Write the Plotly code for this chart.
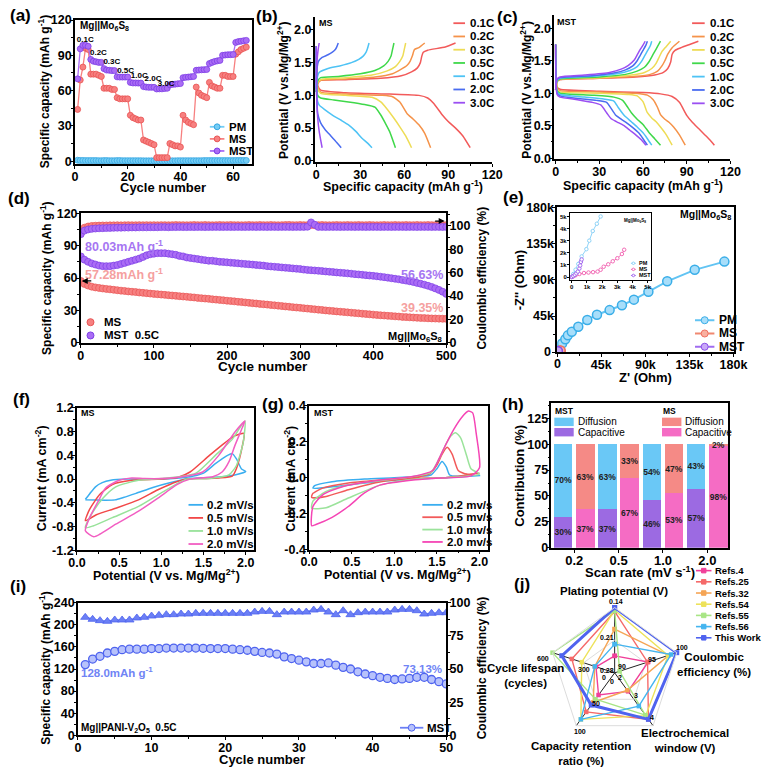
import math
import plotly.graph_objects as go

W, H = 774, 775
FONT = "Liberation Sans, Arial, Helvetica, sans-serif"


def PX(x):
    return x / W


def PY(y):
    return 1.0 - y / H


# ============================ DATA ============================
# (a) rate capability, Mg||Mo6S8
rate_cycles = list(range(1, 66))
pm_rate = [0.8, 0.6, 0.6, 0.5, 0.5, 0.5, 0.5, 0.5, 0.4, 0.4,
           0.5, 0.5, 0.4, 0.4, 0.4, 0.5, 0.5, 0.4, 0.4, 0.4,
           0.4, 0.4, 0.4, 0.4, 0.4, 0.3, 0.3, 0.3, 0.3, 0.3,
           0.3, 0.3, 0.3, 0.3, 0.3, 0.3, 0.3, 0.3, 0.4, 0.4,
           0.4, 0.4, 0.4, 0.4, 0.4, 0.4, 0.4, 0.4, 0.5, 0.5,
           0.5, 0.5, 0.5, 0.5, 0.5, 0.5, 0.5, 0.5, 0.5, 0.5,
           0.6, 0.6, 0.6, 0.6, 0.6]
ms_rate = [44, 69, 80, 96, 95, 74, 74, 74, 73, 72,
           62, 62, 62, 61, 61, 54, 53, 53, 53, 53,
           39, 37, 36, 35, 35, 18, 17, 16, 15, 14,
           3, 3, 3, 3, 3, 15, 14, 13, 13, 12,
           39, 35, 33, 32, 31, 63, 58, 56, 55, 54,
           67, 64, 63, 62, 62, 73, 73, 72, 72, 72,
           91, 93, 95, 96, 97]
mst_rate = [70, 95.5, 98.5, 98.5, 97.7, 86.5, 85, 84.5, 84, 84,
            78.7, 77.5, 77.3, 77, 77, 71.7, 71.5, 71.5, 71.5, 71.5,
            67, 66.5, 66.5, 66.4, 66.4, 63.4, 63, 62.8, 62.8, 62.8,
            61.4, 61.5, 61.5, 61.8, 62, 65, 65.3, 65.5, 65.8, 66,
            71, 71.3, 71.5, 71.8, 72, 77.3, 77.5, 77.7, 77.8, 78,
            83, 84, 84.8, 85.3, 85.7, 90, 90.3, 90.5, 90.6, 90.7,
            101, 101.7, 102, 102.4, 102.7]
rate_step_labels = ["0.1C", "0.2C", "0.3C", "0.5C", "1.0C", "2.0C", "3.0C"]
rate_step_cycle = [3.9, 8.9, 14.0, 19.2, 24.4, 29.6, 34.6]
rate_step_cap = [103, 92, 84, 76.5, 72, 70, 66]

# (b)/(c) charge-discharge profiles (capacity mAh/g, potential V)
cd_rates = ["0.1C", "0.2C", "0.3C", "0.5C", "1.0C", "2.0C", "3.0C"]
ms_dis_cap = [
    [0, 1, 3, 20, 50, 70, 76, 80, 86, 90, 95, 100, 105],
    [0, 1, 3, 20, 45, 52, 57, 62, 66, 70, 74, 78],
    [0, 1, 3, 20, 38, 44, 48, 53, 57, 61, 65],
    [0, 1, 3, 12, 22, 33, 40, 44, 47, 50, 54],
    [0, 0.5, 2, 6, 11, 17, 22, 27, 31, 35, 38],
    [0, 0.3, 1, 3, 6, 10, 14, 17],
    [0, 0.3, 1, 2, 3, 4],
]
ms_dis_v = [
    [1.75, 1.15, 1.08, 1.04, 1.02, 1.0, 0.96, 0.88, 0.7, 0.6, 0.5, 0.38, 0.2],
    [1.75, 1.12, 1.05, 1.02, 1.0, 0.98, 0.9, 0.72, 0.64, 0.55, 0.42, 0.2],
    [1.75, 1.1, 1.03, 1.0, 0.97, 0.9, 0.8, 0.65, 0.52, 0.38, 0.2],
    [1.75, 1.0, 0.96, 0.93, 0.9, 0.86, 0.82, 0.7, 0.58, 0.45, 0.2],
    [1.75, 0.95, 0.85, 0.78, 0.7, 0.62, 0.55, 0.45, 0.35, 0.27, 0.2],
    [1.75, 1.0, 0.72, 0.58, 0.48, 0.38, 0.28, 0.2],
    [1.75, 1.0, 0.65, 0.45, 0.32, 0.2],
]
ms_chg_cap = [
    [0, 1, 3, 20, 44, 58, 65, 69, 71, 72, 73, 76, 88, 95],
    [0, 1, 3, 20, 40, 52, 58, 62, 64, 65.5, 67, 70, 74],
    [0, 1, 3, 20, 38, 48, 54, 57, 59, 60, 61],
    [0, 1, 3, 15, 30, 40, 46, 49, 51, 52, 53],
    [0, 0.5, 2, 8, 16, 24, 29, 32, 34, 35, 36],
    [0, 0.5, 1.5, 4, 8, 11, 13, 14, 15],
    [0, 0.3, 0.8, 1.3, 2],
]
ms_chg_v = [
    [1.05, 1.18, 1.23, 1.24, 1.26, 1.3, 1.36, 1.42, 1.5, 1.6, 1.66, 1.69, 1.74, 1.8],
    [1.05, 1.18, 1.23, 1.25, 1.28, 1.33, 1.4, 1.46, 1.52, 1.6, 1.7, 1.73, 1.8],
    [1.05, 1.2, 1.24, 1.27, 1.31, 1.37, 1.44, 1.52, 1.6, 1.7, 1.8],
    [1.05, 1.22, 1.27, 1.29, 1.33, 1.38, 1.45, 1.52, 1.6, 1.7, 1.8],
    [1.05, 1.25, 1.35, 1.41, 1.45, 1.5, 1.55, 1.6, 1.66, 1.72, 1.8],
    [1.1, 1.4, 1.52, 1.58, 1.62, 1.66, 1.7, 1.74, 1.8],
    [1.2, 1.45, 1.6, 1.7, 1.8],
]
mst_dis_cap = [
    [0, 1, 3, 30, 60, 72, 80, 85, 90, 94, 98, 102, 106, 109],
    [0, 1, 3, 30, 55, 63, 67, 70, 72, 75, 78, 81, 85, 89],
    [0, 1, 3, 30, 50, 56, 60, 63, 66, 69, 72, 76, 80],
    [0, 1, 3, 25, 40, 46, 49, 52, 56, 60, 64, 68, 72],
    [0, 1, 3, 20, 33, 40, 43, 47, 52, 56, 60, 63, 66],
    [0, 1, 3, 15, 28, 35, 38, 41, 45, 49, 53, 57, 60, 63],
    [0, 1, 3, 15, 25, 31, 35, 38, 42, 47, 51, 55, 59, 62],
]
mst_dis_v = [
    [1.75, 1.1, 1.06, 1.03, 1.01, 0.99, 0.95, 0.86, 0.66, 0.55, 0.46, 0.37, 0.28, 0.2],
    [1.75, 1.08, 1.04, 1.02, 1.0, 0.97, 0.9, 0.78, 0.67, 0.6, 0.55, 0.48, 0.36, 0.2],
    [1.75, 1.06, 1.02, 1.0, 0.98, 0.96, 0.87, 0.7, 0.62, 0.56, 0.48, 0.36, 0.2],
    [1.75, 1.04, 1.0, 0.97, 0.94, 0.89, 0.8, 0.7, 0.6, 0.52, 0.4, 0.3, 0.2],
    [1.75, 1.02, 0.98, 0.94, 0.91, 0.88, 0.78, 0.66, 0.56, 0.48, 0.39, 0.3, 0.2],
    [1.75, 1.0, 0.96, 0.92, 0.89, 0.86, 0.77, 0.67, 0.6, 0.54, 0.47, 0.39, 0.3, 0.2],
    [1.75, 0.98, 0.94, 0.9, 0.86, 0.82, 0.7, 0.61, 0.56, 0.5, 0.43, 0.36, 0.28, 0.2],
]
mst_chg_cap = [
    [0, 1, 3, 30, 55, 68, 74, 77, 79, 80, 82, 86, 92, 98],
    [0, 1, 3, 30, 55, 65, 70, 73, 75, 77, 80, 85],
    [0, 1, 3, 30, 52, 61, 66, 69, 71, 73, 76, 79],
    [0, 1, 3, 30, 48, 56, 61, 64, 66, 68, 70, 72],
    [0, 1, 3, 25, 42, 51, 56, 59, 61, 63, 65, 66],
    [0, 1, 3, 25, 40, 48, 53, 56, 58, 60, 62, 63],
    [0, 1, 3, 20, 37, 45, 50, 54, 56, 58, 60, 61.5],
]
mst_chg_v = [
    [1.05, 1.18, 1.21, 1.23, 1.25, 1.28, 1.32, 1.38, 1.48, 1.6, 1.66, 1.7, 1.75, 1.8],
    [1.05, 1.18, 1.21, 1.23, 1.26, 1.29, 1.34, 1.42, 1.5, 1.6, 1.7, 1.8],
    [1.05, 1.18, 1.22, 1.24, 1.28, 1.32, 1.38, 1.46, 1.55, 1.64, 1.72, 1.8],
    [1.05, 1.19, 1.22, 1.25, 1.29, 1.34, 1.4, 1.48, 1.56, 1.64, 1.72, 1.8],
    [1.05, 1.2, 1.23, 1.26, 1.3, 1.35, 1.41, 1.49, 1.57, 1.65, 1.73, 1.8],
    [1.05, 1.21, 1.24, 1.27, 1.31, 1.36, 1.42, 1.5, 1.58, 1.66, 1.74, 1.8],
    [1.05, 1.22, 1.25, 1.28, 1.32, 1.37, 1.43, 1.51, 1.59, 1.67, 1.74, 1.8],
]

# (d) long cycling at 0.5C (every 5th cycle)
cyc_d = list(range(0, 501, 5))
mst_cap_d = [80.0, 77.0, 75.0, 73.5, 72.5, 71.5, 71.0, 71.0, 71.0, 71.5,
             72.0, 73.0, 74.0, 75.0, 76.0, 77.0, 78.0, 79.5, 81.0, 82.0,
             82.5, 83.0, 83.0, 83.0, 82.5, 82.0, 81.5, 80.5, 80.0, 79.0,
             78.5, 78.0, 77.5, 77.0, 76.5, 76.0, 76.0, 75.5, 75.0, 74.8,
             74.5, 74.2, 73.9, 73.6, 73.3, 73.0, 72.7, 72.4, 72.1, 71.8,
             71.5, 71.0, 70.7, 70.4, 70.1, 69.8, 69.5, 69.2, 68.9, 68.6,
             68.3, 67.8, 67.5, 67.2, 67.0, 66.7, 66.4, 66.1, 65.8, 65.5,
             65.2, 64.9, 64.6, 64.3, 64.0, 63.6, 63.3, 63.0, 62.6, 62.3,
             62.0, 61.6, 61.2, 60.8, 60.3, 59.8, 59.3, 58.8, 58.2, 57.6,
             57.0, 56.3, 55.5, 54.7, 53.8, 52.8, 51.7, 50.4, 49.0, 47.3,
             45.3]
ms_cap_d = [57.3, 54.5, 53.0, 52.0, 51.3, 50.8, 50.3, 49.9, 49.5, 49.1,
            48.7, 48.3, 48.0, 47.6, 47.3, 47.0, 46.6, 46.3, 46.0, 45.6,
            45.3, 45.0, 44.7, 44.4, 44.1, 43.8, 43.5, 43.2, 42.9, 42.6,
            42.3, 42.0, 41.6, 41.3, 41.0, 40.7, 40.3, 40.0, 39.7, 39.4,
            39.0, 38.7, 38.4, 38.0, 37.7, 37.4, 37.0, 36.7, 36.4, 36.0,
            35.7, 35.4, 35.0, 34.7, 34.4, 34.0, 33.7, 33.4, 33.0, 32.7,
            32.4, 32.0, 31.7, 31.4, 31.0, 30.7, 30.4, 30.0, 29.7, 29.4,
            29.1, 28.8, 28.5, 28.2, 27.9, 27.6, 27.3, 27.0, 26.7, 26.4,
            26.1, 25.8, 25.5, 25.3, 25.0, 24.8, 24.5, 24.3, 24.0, 23.8,
            23.6, 23.4, 23.2, 23.0, 22.9, 22.7, 22.6, 22.5, 22.4, 22.3,
            22.2]
ms_ce_d = [94.0, 98.5, 99.5, 100.0, 100.2, 100.3, 100.4, 100.4, 100.5, 100.5,
           100.6, 100.5, 100.6, 100.7, 100.6, 100.6, 100.7, 100.6, 100.7, 100.6,
           100.7, 100.6, 100.7, 100.7, 100.6, 100.7, 100.8, 100.7, 100.7, 100.6,
           100.7, 100.8, 100.7, 100.7, 100.8, 100.7, 100.6, 100.7, 100.8, 100.7,
           100.7, 100.8, 100.7, 100.7, 100.6, 100.7, 100.8, 100.7, 100.7, 100.8,
           100.7, 100.7, 100.8, 100.7, 100.6, 100.7, 100.8, 100.9, 100.7, 100.7,
           100.8, 100.7, 100.7, 100.8, 100.7, 100.7, 100.8, 100.7, 100.6, 100.7,
           100.8, 100.7, 100.7, 100.8, 100.7, 100.7, 100.8, 100.7, 100.7, 100.8,
           100.7, 100.6, 100.7, 100.8, 100.7, 100.7, 100.8, 100.7, 100.7, 100.8,
           100.7, 100.7, 100.8, 100.7, 100.7, 100.8, 100.7, 100.7, 100.8, 100.7,
           100.7]
mst_ce_d = [93.0, 96.0, 97.0, 97.5, 97.8, 98.0, 98.1, 98.2, 98.3, 98.4,
            98.5, 98.5, 98.6, 98.6, 98.7, 98.7, 98.8, 98.8, 98.8, 98.9,
            98.9, 98.9, 99.0, 99.0, 98.9, 99.0, 99.0, 99.1, 99.0, 99.0,
            99.1, 99.0, 99.1, 99.1, 99.0, 99.1, 99.1, 99.2, 99.1, 99.1,
            99.2, 99.1, 99.1, 99.2, 99.1, 99.1, 99.2, 99.2, 99.1, 99.2,
            99.2, 99.1, 99.2, 99.2, 99.1, 99.2, 99.2, 99.2, 99.1, 99.2,
            99.2, 99.2, 99.3, 103.0, 101.0, 99.2, 99.2, 99.1, 99.2, 99.2,
            99.2, 99.1, 99.2, 99.2, 99.2, 99.1, 99.2, 99.2, 99.1, 99.2,
            99.2, 99.2, 99.1, 99.2, 99.2, 99.1, 99.2, 99.2, 99.2, 99.1,
            99.2, 99.2, 99.1, 99.2, 99.2, 99.2, 99.1, 99.2, 99.2, 99.1,
            99.2]

# (e) Nyquist (Ohm)
pm_zre = [1650, 5000, 8300, 10900, 14900, 21500, 30700, 40600, 53500, 66100, 78300, 93100, 112300, 140400, 170700]
pm_zim = [2800, 11000, 16300, 21100, 25600, 31700, 40200, 46700, 52400, 58500, 65400, 75200, 88200, 102400, 112600]
pm_zre_in = [0, 100, 250, 430, 650, 960, 1150, 1380, 1650, 1900]
pm_zim_in = [0, 250, 600, 1080, 1700, 2300, 3000, 3800, 4400, 5000]
ms_zre = [0, 100, 250, 500, 800, 1100, 1400, 1700, 1900, 2100, 2400, 2700, 3000, 3300, 3450]
ms_zim = [0, 60, 150, 250, 330, 370, 400, 450, 600, 850, 1050, 1300, 1550, 1900, 2250]
mst_zre = [0, 100, 200, 300, 400, 500, 550, 600, 650]
mst_zim = [0, 80, 180, 300, 450, 700, 950, 1250, 1450]
z_ticks = [0, 45000, 90000, 135000, 180000]
z_tick_text = ["", "45k", "90k", "135k", "180k"]

# (f) CV of MS
cv_rates_f = ["0.2 mV/s", "0.5 mV/s", "1.0 mV/s", "2.0 mV/s"]
f_x = [
    [0.1, 0.15, 0.22, 0.3, 0.4, 0.6, 1.0, 1.3, 1.5, 1.64, 1.76, 1.84, 1.89, 1.95, 2.0, 1.87, 1.64, 1.34, 1.1, 0.9, 0.7, 0.55, 0.45, 0.1],
    [0.1, 0.15, 0.27, 0.42, 0.65, 1.0, 1.2, 1.34, 1.57, 1.76, 1.87, 1.98, 1.96, 1.89, 1.84, 1.68, 1.49, 1.3, 1.19, 0.96, 0.73, 0.46, 0.23, 0.1],
    [0.1, 0.17, 0.31, 0.46, 0.73, 1.0, 1.22, 1.41, 1.64, 1.84, 1.99, 1.97, 1.89, 1.8, 1.57, 1.3, 1.22, 0.99, 0.73, 0.42, 0.19, 0.1],
    [0.1, 0.15, 0.25, 0.34, 0.5, 0.65, 0.8, 1.0, 1.25, 1.49, 1.68, 1.87, 1.99, 1.96, 1.87, 1.8, 1.72, 1.61, 1.34, 1.19, 0.96, 0.73, 0.46, 0.27, 0.2, 0.1],
]
f_y = [
    [-0.34, -0.25, -0.13, -0.06, -0.02, 0.0, 0.0, 0.03, 0.1, 0.26, 0.38, 0.43, 0.34, 0.17, 0.13, 0.07, 0.03, 0.01, -0.06, -0.14, -0.24, -0.31, -0.35, -0.35],
    [-0.7, -0.51, -0.26, -0.09, -0.02, 0.0, 0.03, 0.12, 0.4, 0.62, 0.73, 0.77, 0.56, 0.18, 0.05, 0.02, 0.01, 0.0, -0.04, -0.18, -0.35, -0.49, -0.6, -0.7],
    [-0.82, -0.6, -0.32, -0.13, -0.02, 0.01, 0.04, 0.1, 0.4, 0.67, 0.98, 0.62, 0.23, 0.07, 0.01, 0.0, -0.05, -0.24, -0.46, -0.65, -0.79, -0.82],
    [-0.87, -0.65, -0.38, -0.15, -0.02, 0.02, 0.01, 0.01, 0.04, 0.12, 0.4, 0.79, 0.98, 0.87, 0.56, 0.29, 0.12, 0.04, 0.0, -0.09, -0.32, -0.54, -0.76, -0.93, -0.97, -0.87],
]

# (g) CV of MST
cv_rates_g = ["0.2 mv/s", "0.5 mv/s", "1.0 mv/s", "2.0 mv/s"]
g_x = [
    [0.045, 0.065, 0.27, 0.65, 1.0, 1.3, 1.43, 1.5, 1.56, 1.61, 1.65, 1.75, 2.0, 1.6, 1.03, 0.65, 0.27, 0.045],
    [0.03, 0.04, 0.16, 0.46, 0.84, 1.2, 1.41, 1.5, 1.56, 1.62, 1.68, 1.75, 1.85, 2.0, 1.6, 1.22, 0.84, 0.46, 0.2, 0.03],
    [0.03, 0.045, 0.2, 0.46, 0.84, 1.2, 1.43, 1.52, 1.6, 1.66, 1.72, 1.78, 1.85, 1.9, 2.0, 1.6, 1.2, 0.84, 0.46, 0.2, 0.03],
    [0.03, 0.045, 0.16, 0.39, 0.84, 1.2, 1.45, 1.52, 1.6, 1.7, 1.8, 1.87, 1.92, 1.96, 2.0, 1.9, 1.45, 1.22, 0.84, 0.65, 0.46, 0.27, 0.08, 0.03],
]
g_y = [
    [-0.058, -0.044, -0.022, -0.007, 0.0, 0.008, 0.015, 0.05, 0.09, 0.06, 0.015, 0.008, 0.012, 0.0, -0.013, -0.03, -0.05, -0.058],
    [-0.11, -0.09, -0.058, -0.03, -0.013, 0.0, 0.02, 0.07, 0.13, 0.169, 0.13, 0.04, 0.02, 0.025, 0.0, -0.004, -0.022, -0.067, -0.104, -0.11],
    [-0.17, -0.13, -0.076, -0.04, -0.015, 0.005, 0.03, 0.1, 0.18, 0.23, 0.25, 0.22, 0.12, 0.05, 0.02, 0.0, -0.01, -0.04, -0.113, -0.167, -0.17],
    [-0.267, -0.16, -0.095, -0.05, -0.013, 0.005, 0.04, 0.1, 0.18, 0.27, 0.34, 0.37, 0.36, 0.25, 0.055, 0.01, -0.004, -0.013, -0.04, -0.085, -0.16, -0.22, -0.26, -0.267],
]

# (h) capacitive / diffusion contribution (%)
scan_rates = ["0.2", "0.5", "1.0", "2.0"]
mst_capacitive = [30, 37, 46, 57]
mst_diffusion = [70, 63, 54, 43]
ms_capacitive = [37, 67, 53, 98]
ms_diffusion = [63, 33, 47, 2]

# (i) Mg||PANI-V2O5 at 0.5C
cyc_i = list(range(1, 51))
cap_i = [128, 138, 143, 149, 152, 155, 156, 156, 156, 157,
         157, 158, 158, 158, 158, 158, 157.5, 157, 157, 157,
         156, 155, 154, 152, 150, 149, 147, 142, 139, 136,
         133, 130, 130, 131, 127, 123, 120, 115, 111, 108,
         105, 103, 101, 102, 103, 105, 105, 101, 97, 93]
ce_i = [89, 87.5, 86.5, 86, 87, 87, 87, 88.5, 89, 90,
        90.5, 91, 91, 91.5, 91.5, 92, 92, 92, 92, 92,
        92, 92, 92, 93, 93.5, 93.5, 91, 93, 93, 93,
        93, 94.5, 95, 93, 91, 94, 91, 92.5, 93, 93,
        93, 93, 94.5, 95, 95, 94, 91.5, 92, 92.5, 92.5]

# (j) radar (normalised score, outer ring = best)
radar_axes = ["Plating potential", "Coulombic efficiency", "Electrochemical window",
              "Capacity retention ratio", "Cycle lifespan"]
radar_names = ["Refs.4", "Refs.25", "Refs.32", "Refs.54", "Refs.55", "Refs.56", "This Work"]
radar_scores = [
    [0.26, 0.54, 0.35, 0.42, 0.30],
    [0.94, 0.53, 0.88, 0.74, 0.69],
    [0.67, 0.87, 0.33, 0.56, 0.32],
    [0.96, 0.86, 0.81, 0.88, 0.53],
    [0.95, 0.08, 0.80, 0.50, 1.00],
    [0.44, 0.91, 0.63, 0.88, 0.32],
    [1.00, 1.00, 0.88, 0.61, 0.85],
]

# ============================ STYLE ============================
RATE_COLORS = ["#f25a5a", "#f5934a", "#eedc55", "#3fd84a", "#4ec3f5", "#4a6cf0", "#9b4ff2"]
CV_F_COLORS = ["#3aaef0", "#f24848", "#98e29a", "#f25ec2"]
CV_G_COLORS = ["#3aaef0", "#f25a5a", "#9be39b", "#f545b5"]
RADAR_COLORS = ["#f0409a", "#f56a6a", "#f5a555", "#ede25a", "#a8e585", "#45b5ef", "#4f63ef"]
C_PM, C_PM_E = "#74cdf5", "#35a6e2"
C_MS, C_MS_E = "#f78080", "#e85454"
C_MST, C_MST_E = "#aa6cf5", "#7d3fe6"
C_I, C_I_E, C_I_F = "#6b7ff5", "#4e63ef", "#b7c2fb"

traces = []
shapes = []
annotations = []


def ann(x, y, text, size=12, color="black", xanchor="center", yanchor="middle",
        angle=0, bold=True, align="center"):
    annotations.append(dict(
        x=PX(x), y=PY(y), xref="paper", yref="paper", text=text, showarrow=False,
        font=dict(family=FONT, size=size, color=color, weight="bold" if bold else "normal"),
        xanchor=xanchor, yanchor=yanchor, textangle=angle, align=align, borderpad=0))


def axis(domain, rng, anchor, dtick=None, minor=None, mirror=True, fs=12.5, standoff=-3, **kw):
    d = dict(range=rng, anchor=anchor, showline=True, linecolor="black", linewidth=1.5,
             mirror=mirror, ticks="outside", ticklen=3, tickwidth=1.3, tickcolor="black",
             showgrid=False, zeroline=False, fixedrange=True, ticklabelstandoff=standoff,
             tickfont=dict(family=FONT, size=fs, color="black", weight="bold"))
    if domain is not None:
        d["domain"] = domain
    if dtick is not None:
        d["dtick"] = dtick
        d["tick0"] = 0
    if minor is not None:
        d["minor"] = dict(ticks="outside", ticklen=2, tickwidth=1, tickcolor="black",
                          dtick=minor, tick0=0, showgrid=False)
    d.update(kw)
    return d


def leg_line(x0, x1, y, color, width=1.8):
    shapes.append(dict(type="line", xref="paper", yref="paper", x0=PX(x0), x1=PX(x1),
                       y0=PY(y), y1=PY(y), line=dict(color=color, width=width)))


def leg_mark(x, y, r, fill, edge, kind="circle"):
    shapes.append(dict(type=kind, xref="paper", yref="paper", x0=PX(x - r), x1=PX(x + r),
                       y0=PY(y + r), y1=PY(y - r), fillcolor=fill,
                       line=dict(color=edge, width=1)))


def legend(x0, x1, tx, y0, dy, labels, colors, fs, width=1.8, marks=None, mr=3.2,
           kind="circle", edges=None, draw_line=True):
    for i, lab in enumerate(labels):
        y = y0 + i * dy
        if draw_line:
            leg_line(x0, x1, y, colors[i], width)
        if marks:
            leg_mark((x0 + x1) / 2, y, mr, marks[i], edges[i] if edges else colors[i], kind)
        ann(tx, y, lab, size=fs, xanchor="left")


layout = dict(width=W, height=H, margin=dict(l=0, r=0, t=0, b=0),
              paper_bgcolor="white", plot_bgcolor="white", showlegend=False,
              font=dict(family=FONT, color="black"), barmode="stack",
              uniformtext=dict(minsize=8.5, mode="show"))

YSO = -4  # y tick-label standoff

# ------------------ (a) ------------------
layout["xaxis"] = axis([PX(68), PX(250)], [0, 67], "y", dtick=20, minor=10)
layout["yaxis"] = axis([PY(160), PY(13.3)], [-2.5, 120], "x", dtick=30, minor=15, standoff=YSO)
for ys, c, e in [(pm_rate, C_PM, C_PM_E), (ms_rate, C_MS, C_MS_E), (mst_rate, C_MST, C_MST_E)]:
    traces.append(go.Scatter(x=rate_cycles, y=ys, mode="lines+markers", xaxis="x", yaxis="y",
                             line=dict(color=c, width=1.3),
                             marker=dict(size=6, color=c, line=dict(color=e, width=0.8))))
traces.append(go.Scatter(x=rate_step_cycle, y=rate_step_cap, text=rate_step_labels, mode="text",
                         xaxis="x", yaxis="y",
                         textfont=dict(family=FONT, size=8, color="black", weight="bold")))
ann(72, 19, "Mg||Mo<sub>6</sub>S<sub>8</sub>", size=10, xanchor="left")
legend(207, 222, 226, 122, 12.3, ["PM", "MS", "MST"], [C_PM, C_MS, C_MST], 11.5,
       marks=[C_PM, C_MS, C_MST], edges=[C_PM_E, C_MS_E, C_MST_E], mr=3)
ann(37, 86, "Specific capacity (mAh g<sup>-1</sup>)", size=12, angle=-90)
ann(159, 184, "Cycle number", size=13)
ann(12, 9, "(a)", size=17)

# ------------------ (b) & (c) ------------------
for xa, ya, dcap, dv, ccap, cv in [
        ("x2", "y2", ms_dis_cap, ms_dis_v, ms_chg_cap, ms_chg_v),
        ("x3", "y3", mst_dis_cap, mst_dis_v, mst_chg_cap, mst_chg_v)]:
    for i in range(len(cd_rates)):
        for cx, cy in [(dcap[i], dv[i]), (ccap[i], cv[i])]:
            traces.append(go.Scatter(x=cx, y=cy, mode="lines", xaxis=xa, yaxis=ya,
                                     line=dict(color=RATE_COLORS[i], width=1.5,
                                               shape="spline", smoothing=0.5)))
layout["xaxis2"] = axis([PX(315), PX(498)], [-1.1, 120], "y2", dtick=30, minor=15, mirror=False)
layout["yaxis2"] = axis([PY(158), PY(10)], [-0.02, 2.2], "x2", dtick=0.5, minor=0.25,
                        mirror=False, tickformat=".1f", standoff=YSO)
layout["xaxis3"] = axis([PX(562), PX(743.5)], [-0.9, 120], "y3", dtick=30, minor=15, mirror=False)
layout["yaxis3"] = axis([PY(155.3), PY(8.4)], [-0.02, 2.2], "x3", dtick=0.5, minor=0.25,
                        mirror=False, tickformat=".1f", standoff=YSO)
legend(458, 470, 474, 16.5, 13.5, cd_rates, RATE_COLORS, 11.5)
legend(704, 717, 721, 16.5, 13.6, cd_rates, RATE_COLORS, 11.5)
ann(318, 16, "MS", size=9, xanchor="left")
ann(564, 15, "MST", size=9, xanchor="left")
ann(283, 85, "Potential (V vs.Mg/Mg<sup>2+</sup>)", size=12, angle=-90)
ann(533, 84, "Potential (V vs.Mg/Mg<sup>2+</sup>)", size=12, angle=-90)
ann(406, 182.5, "Specific capacity (mAh g<sup>-1</sup>)", size=12.5)
ann(653, 181.5, "Specific capacity (mAh g<sup>-1</sup>)", size=12.5)
ann(266, 10, "(b)", size=17)
ann(514, 11, "(c)", size=17)

# ------------------ (d) ------------------
layout["xaxis4"] = axis([PX(74), PX(450.7)], [0, 500], "y4", dtick=100, minor=50)
layout["yaxis4"] = axis([PY(342), PY(210)], [0, 120], "x4", dtick=30, minor=15, mirror=False,
                        standoff=YSO)
layout["yaxis5"] = axis(None, [0, 110.9], "x4", dtick=20, minor=10, mirror=False,
                        overlaying="y4", side="right", standoff=YSO)
for ys, ya, c, e in [(ms_ce_d, "y5", C_MS, C_MS_E), (mst_ce_d, "y5", C_MST, C_MST_E),
                     (ms_cap_d, "y4", C_MS, C_MS_E), (mst_cap_d, "y4", C_MST, C_MST_E)]:
    traces.append(go.Scatter(x=cyc_d, y=ys, mode="markers", xaxis="x4", yaxis=ya,
                             marker=dict(size=7, color=c, line=dict(color=e, width=0.7))))
ann(77, 243, "80.03mAh g<sup>-1</sup>", size=12.5, color="#a676f2", xanchor="left")
ann(77, 272, "57.28mAh g<sup>-1</sup>", size=12.5, color="#f5a0a0", xanchor="left")
ann(448, 273, "56.63%", size=12.5, color="#a676f2", xanchor="right")
ann(448, 307, "39.35%", size=12.5, color="#f5a0a0", xanchor="right")
ann(448, 336, "Mg||Mo<sub>6</sub>S<sub>8</sub>", size=11, xanchor="right")
legend(84, 84, 97, 321, 13.5, ["MS", "MST  0.5C"], [C_MS, C_MST], 11.5,
       marks=[C_MS, C_MST], edges=[C_MS_E, C_MST_E], mr=3.6, draw_line=False)
annotations.append(dict(x=PX(75), y=PY(279), xref="paper", yref="paper", ax=11, ay=0,
                        axref="pixel", ayref="pixel", text="", showarrow=True, arrowhead=2,
                        arrowsize=1, arrowwidth=1.2, arrowcolor="black"))
annotations.append(dict(x=PX(449), y=PY(218), xref="paper", yref="paper", ax=-11, ay=0,
                        axref="pixel", ayref="pixel", text="", showarrow=True, arrowhead=2,
                        arrowsize=1, arrowwidth=1.2, arrowcolor="black"))
ann(38, 276, "Specific capacity (mAh g<sup>-1</sup>)", size=12, angle=-90)
ann(487, 276, "Coulombic efficiency (%)", size=12, angle=-90)
ann(262, 366, "Cycle number", size=13.5)
ann(10, 195, "(d)", size=17)

# ------------------ (e) ------------------
layout["xaxis5"] = axis([PX(565), PX(746.7)], [0, 180000], "y6", minor=22500,
                        tickvals=z_ticks, ticktext=z_tick_text)
layout["yaxis6"] = axis([PY(351.7), PY(204)], [0, 180000], "x5", minor=22500,
                        tickvals=z_ticks, ticktext=z_tick_text, standoff=YSO)
layout["xaxis6"] = axis([PX(578), PX(662)], [-130, 5240], "y7", dtick=1000, tickformat="~s",
                        fs=6, ticklen=2, linewidth=0.8, tickwidth=0.8, standoff=-1)
layout["yaxis7"] = axis([PY(277.7), PY(210)], [-220, 5270], "x6", dtick=1000, tickformat="~s",
                        fs=6, ticklen=2, linewidth=0.8, tickwidth=0.8, standoff=-1)
traces.append(go.Scatter(x=pm_zre, y=pm_zim, mode="lines+markers", xaxis="x5", yaxis="y6",
                         line=dict(color="#62c4f3", width=2),
                         marker=dict(size=9, color="#a8defa", line=dict(color="#3aaee8", width=1.5))))
traces.append(go.Scatter(x=ms_zre, y=ms_zim, mode="lines+markers", xaxis="x5", yaxis="y6",
                         line=dict(color="#f08870", width=2),
                         marker=dict(size=9, color="#f8b0a0", line=dict(color="#f07060", width=1.5))))
traces.append(go.Scatter(x=mst_zre, y=mst_zim, mode="lines+markers", xaxis="x5", yaxis="y6",
                         line=dict(color="#a06cf0", width=2),
                         marker=dict(size=9, color="#c8a8f8", line=dict(color="#8a4ee8", width=1.5))))
for zx, zy, c in [(pm_zre_in, pm_zim_in, "#8fd3f7"), (ms_zre, ms_zim, "#f36cb6"),
                  (mst_zre, mst_zim, "#a66cf0")]:
    traces.append(go.Scatter(x=zx, y=zy, mode="lines+markers", xaxis="x6", yaxis="y7",
                             line=dict(color=c, width=1),
                             marker=dict(size=3.5, color="white", line=dict(color=c, width=1))))
ann(560, 351.7, "0", size=12.5, xanchor="right")
ann(565, 363.5, "0", size=12.5)
ann(745, 212, "Mg||Mo<sub>6</sub>S<sub>8</sub>", size=10.5, xanchor="right")
ann(658, 218, "Mg||Mo<sub>6</sub>S<sub>8</sub>", size=4.5, xanchor="right")
legend(707, 727, 731, 319, 13.5, ["PM", "MS", "MST"], ["#62c4f3", "#f08870", "#a06cf0"], 12,
       width=2, marks=["#a8defa", "#f8b0a0", "#c8a8f8"], edges=["#3aaee8", "#f07060", "#8a4ee8"],
       mr=3.6)
legend(641, 646, 648, 261, 6.2, ["PM", "MS", "MST"], ["#8fd3f7", "#f36cb6", "#a66cf0"], 5.5,
       width=1, marks=["white", "white", "white"], edges=["#8fd3f7", "#f36cb6", "#a66cf0"], mr=1.3)
ann(527, 278, "-Z'' (Ohm)", size=13, angle=-90)
ann(656, 377.5, "Z' (Ohm)", size=13)
ann(520, 194, "(e)", size=17)

# ------------------ (f) ------------------
layout["xaxis7"] = axis([PX(70), PX(252.7)], [0, 2.1], "y8", dtick=0.5, minor=0.25, tickformat=".1f")
layout["yaxis8"] = axis([PY(553.3), PY(408.3)], [-1.2, 1.2], "x7", minor=0.2, standoff=YSO,
                        tickvals=[-1.2, -0.8, -0.4, 0.0, 0.4, 0.8, 1.2],
                        ticktext=["-1.2", "-0.8", "-0.4", "0.0", "0.4", "0.8", "1.2"])
for i in range(4):
    traces.append(go.Scatter(x=f_x[i], y=f_y[i], mode="lines", xaxis="x7", yaxis="y8",
                             line=dict(color=CV_F_COLORS[i], width=1.5, shape="spline",
                                       smoothing=0.6)))
legend(185, 200, 203, 507, 13.3, cv_rates_f, CV_F_COLORS, 11.5)
ann(73, 413, "MS", size=9, xanchor="left")
ann(33, 480, "Current (mA cm<sup>-2</sup>)", size=12.5, angle=-90)
ann(162, 578, "Potential (V vs. Mg/Mg<sup>2+</sup>)", size=12.5)
ann(13, 400, "(f)", size=17)

# ------------------ (g) ------------------
layout["xaxis8"] = axis([PX(309.3), PX(493.7)], [0, 2.1], "y9", dtick=0.5, minor=0.25, tickformat=".1f")
layout["yaxis9"] = axis([PY(552.7), PY(406)], [-0.4, 0.4], "x8", minor=0.1, standoff=YSO,
                        tickvals=[-0.4, -0.2, 0.0, 0.2, 0.4],
                        ticktext=["-0.4", "-0.2", "0.0", "0.2", "0.4"])
for i in range(4):
    traces.append(go.Scatter(x=g_x[i], y=g_y[i], mode="lines", xaxis="x8", yaxis="y9",
                             line=dict(color=CV_G_COLORS[i], width=1.5, shape="spline",
                                       smoothing=0.6)))
legend(426, 447, 450, 507, 12.6, cv_rates_g, CV_G_COLORS, 11.5)
ann(313, 413, "MST", size=9, xanchor="left")
ann(290, 480, "Current (mA cm<sup>-2</sup>)", size=12.5, angle=-90)
ann(400, 577.5, "Potential (V vs. Mg/Mg<sup>2+</sup>)", size=12.5)
ann(272, 405, "(g)", size=17)

# ------------------ (h) ------------------
layout["xaxis9"] = axis([PX(559), PX(741)], [0.47, 8.43], "y10",
                        tickvals=[1.5, 3.5, 5.5, 7.5], ticktext=scan_rates, fs=13)
layout["yaxis10"] = axis([PY(550.7), PY(403)], [0, 140], "x9", dtick=25, minor=12.5, standoff=YSO)
mst_pos = [1, 3, 5, 7]
ms_pos = [2, 4, 6, 8]
for pos, vals, c in [(mst_pos, mst_capacitive, "#9c6ae2"), (mst_pos, mst_diffusion, "#6ac8f6"),
                     (ms_pos, ms_capacitive, "#f56cc4"), (ms_pos, ms_diffusion, "#f58a86")]:
    traces.append(go.Bar(x=pos, y=vals, xaxis="x9", yaxis="y10", width=0.83,
                         marker=dict(color=c, line=dict(width=0)),
                         text=[f"{v}%" for v in vals], textposition="inside",
                         insidetextanchor="middle", textangle=0,
                         textfont=dict(family=FONT, size=8.5, color="#222222", weight="bold")))
for hx, title, cols in [(562, "MST", ["#6ac8f6", "#9c6ae2"]), (673, "MS", ["#f58a86", "#f56cc4"])]:
    ann(hx, 411, title, size=8.5, xanchor="left")
    for k, lab in enumerate(["Diffusion", "Capacitive"]):
        yy = 422.5 + 10.5 * k
        shapes.append(dict(type="rect", xref="paper", yref="paper", x0=PX(hx), x1=PX(hx + 20),
                           y0=PY(yy + 4.3), y1=PY(yy - 4.3), fillcolor=cols[k],
                           line=dict(width=0)))
        ann(hx + 23, yy, lab, size=10, xanchor="left", bold=False)
ann(526, 477, "Contribution (%)", size=13, angle=-90)
ann(650, 575, "Scan rate (mV s<sup>-1</sup>)", size=13)
ann(519, 405, "(h)", size=17)

# ------------------ (i) ------------------
layout["xaxis10"] = axis([PX(71), PX(450.7)], [0, 50], "y11", dtick=10, minor=5)
layout["yaxis11"] = axis([PY(741.7), PY(606.7)], [0, 240], "x10", dtick=40, minor=20, mirror=False,
                         standoff=YSO)
layout["yaxis12"] = axis(None, [0, 100], "x10", dtick=25, minor=12.5, mirror=False,
                         overlaying="y11", side="right", standoff=YSO)
traces.append(go.Scatter(x=cyc_i, y=ce_i, mode="lines+markers", xaxis="x10", yaxis="y12",
                         line=dict(color=C_I, width=1.5),
                         marker=dict(symbol="triangle-up", size=8, color=C_I,
                                     line=dict(color=C_I_E, width=0.8))))
traces.append(go.Scatter(x=cyc_i, y=cap_i, mode="lines+markers", xaxis="x10", yaxis="y11",
                         line=dict(color=C_I, width=1.5),
                         marker=dict(size=8, color=C_I_F, line=dict(color=C_I_E, width=1.3))))
ann(73, 677, "128.0mAh g<sup>-1</sup>", size=11.5, color="#7084f5", xanchor="left")
ann(447, 674, "73.13%", size=11.5, color="#7084f5", xanchor="right")
ann(73, 734, "Mg||PANI-V<sub>2</sub>O<sub>5</sub>  0.5C", size=10, xanchor="left")
legend(403, 427, 430, 734, 12, ["MST"], [C_I], 11.5, marks=[C_I_F], edges=[C_I_E], mr=3.5)
ann(37, 673, "Specific capacity (mAh g<sup>-1</sup>)", size=12, angle=-90)
ann(487, 673, "Coulombic efficiency (%)", size=12, angle=-90)
ann(261, 766.5, "Cycle number", size=13)
ann(9, 590, "(i)", size=17)

# ------------------ (j) ------------------
RCX, RCY, RR = 624.2, 678.1, 67.3
layout["polar"] = dict(
    domain=dict(x=[PX(RCX - RR), PX(RCX + RR)], y=[PY(RCY + RR), PY(RCY - RR)]),
    bgcolor="rgba(0,0,0,0)", gridshape="linear",
    radialaxis=dict(range=[0, 1], tickvals=[0.5], showticklabels=False, ticks="",
                    showline=False, gridcolor="#dcdcdc", gridwidth=1),
    angularaxis=dict(rotation=90, direction="clockwise", showticklabels=False, ticks="",
                     showline=True, linecolor="#dcdcdc", linewidth=1,
                     gridcolor="#222222", gridwidth=1),
)
for name, sc, c in zip(radar_names, radar_scores, RADAR_COLORS):
    big = name == "This Work"
    traces.append(go.Scatterpolar(r=sc + sc[:1], theta=radar_axes + radar_axes[:1],
                                  mode="lines+markers", subplot="polar",
                                  line=dict(color=c, width=3 if big else 1.4),
                                  marker=dict(symbol="square", size=5 if big else 4.5, color=c)))
for (tx, ty, t) in [(626, 605, "0.14"), (616, 642, "0.21"), (616, 676, "0.28"), (632, 672, "90"),
                    (663, 664, "95"), (694, 652, "100"), (630, 683, "2"), (646, 701, "3"),
                    (663, 724, "4"), (621, 687, "0"), (605, 709, "50"), (588, 738, "100"),
                    (613, 683, "0"), (593, 675, "300"), (550, 663, "600")]:
    ann(tx, ty, t, size=7)
ann(624, 595, "Plating potential (V)", size=11.5)
ann(727, 670, "Coulombic<br>efficiency (%)", size=11.5)
ann(697, 747, "Electrochemical<br>window (V)", size=11.5)
ann(590, 760, "Capacity retention<br>ratio (%)", size=11.5)
ann(532, 681, "Cycle lifespan<br>(cycles)", size=11.5)
legend(708, 724, 727, 574, 11.4, radar_names, RADAR_COLORS, 9.5, width=1.6,
       marks=RADAR_COLORS, mr=2.3, kind="rect")
ann(529, 588, "(j)", size=17)

layout["shapes"] = shapes
layout["annotations"] = annotations

fig = go.Figure(data=traces, layout=layout)
fig.write_html("out.html")
